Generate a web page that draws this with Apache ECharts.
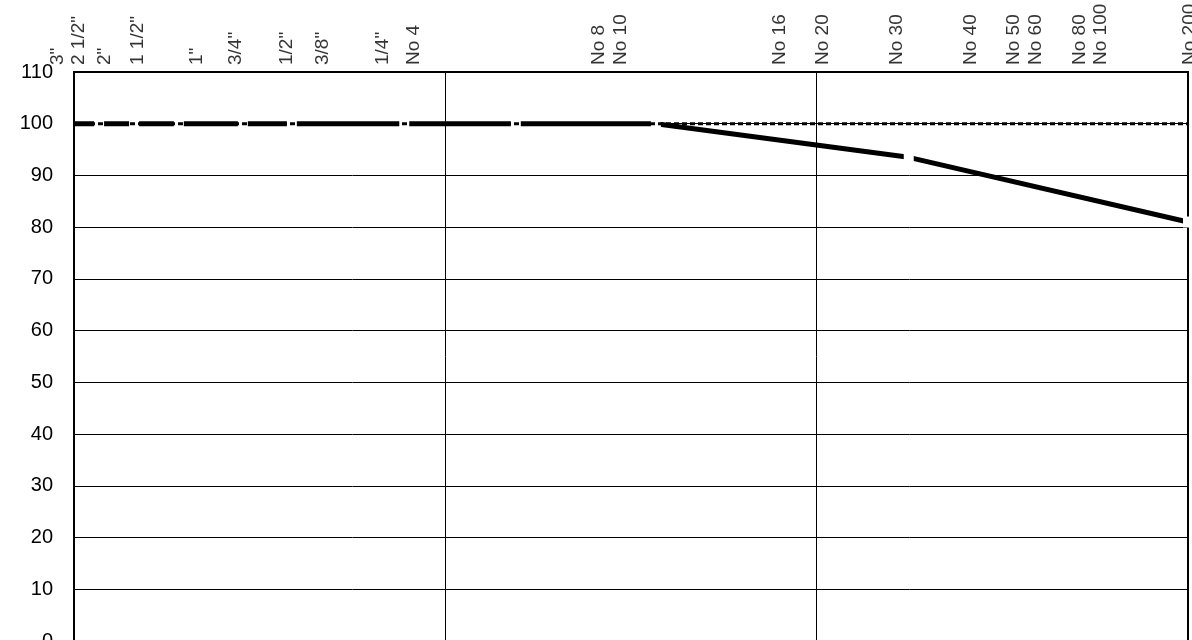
<!DOCTYPE html>
<html><head><meta charset="utf-8">
<script src="https://cdn.jsdelivr.net/npm/echarts@6/dist/echarts.min.js"></script>
<style>html,body{margin:0;padding:0;background:#fff;overflow:hidden}#c{width:1192px;height:640px}</style>
</head><body><div id="c"></div>
<script>
// Sieve tick labels and the axis value (mm, log axis) at which each label sits in the picture
const sieveLabels = ['3"', '2 1/2"', '2"', '1 1/2"', '1"', '3/4"', '1/2"', '3/8"', '1/4"', 'No 4', 'No 8', 'No 10', 'No 16', 'No 20', 'No 30', 'No 40', 'No 50', 'No 60', 'No 80', 'No 100', 'No 200'];
const labelSizesMm = [111.8, 98.1, 83.6, 68.1, 47.2, 37.1, 26.9, 21.6, 14.9, 12.3, 3.91, 3.41, 1.27, 0.969, 0.613, 0.388, 0.297, 0.259, 0.198, 0.173, 0.0997];

// Gradation curve (percent passing)
const gradSizesMm = [100, 85.6, 68.9, 52.2, 35.1, 25.9, 12.9, 6.46, 2.71, 0.565, 0.1];
const gradPassing = [100, 100, 100, 100, 100, 100, 100, 100, 100, 93.5, 81];

// Upper limit line
const limitSizesMm = [100, 0.1];
const limitPassing = [100, 100];

const FONT = '"Liberation Sans", Arial, sans-serif';
const chart = echarts.init(document.getElementById('c'), null, {renderer: 'canvas'});
chart.setOption({
  animation: false,
  backgroundColor: '#fff',
  grid: {left: 74, right: 4, top: 72, height: 569, outerBoundsMode: 'none', containLabel: false,
         show: true, borderColor: '#000', borderWidth: 2, backgroundColor: 'transparent'},
  xAxis: {
    type: 'log', logBase: 10, min: 0.1, max: 100, inverse: true,
    axisLine: {show: false}, axisTick: {show: false}, axisLabel: {show: false},
    splitLine: {show: true, lineStyle: {color: '#000', width: 1}},
    minorSplitLine: {show: false}
  },
  yAxis: {
    type: 'value', min: 0, max: 110, interval: 10,
    axisLine: {show: false}, axisTick: {show: false},
    axisLabel: {color: '#000', fontSize: 20, fontFamily: FONT, margin: 21},
    splitLine: {show: true, lineStyle: {color: '#000', width: 1}}
  },
  series: [
    {
      type: 'line', name: 'Gradation', z: 2,
      data: gradSizesMm.map((s, i) => i === 0
        ? {value: [s, gradPassing[i]], symbol: 'none'}
        : [s, gradPassing[i]]),
      lineStyle: {color: '#000', width: 5},
      symbol: 'rect', symbolSize: [10, 11], showSymbol: true,
      itemStyle: {color: '#fff', borderWidth: 0},
      clip: true, silent: true
    },
    {
      type: 'line', name: 'Limit', z: 3,
      data: limitSizesMm.map((s, i) => [s, limitPassing[i]]),
      lineStyle: {color: '#000', width: 3, type: [5, 3]},
      symbol: 'none', clip: true, silent: true
    },
    {
      type: 'scatter', name: 'Sieves', z: 4,
      data: labelSizesMm.map((s, i) => ({value: [s, 110], name: sieveLabels[i]})),
      symbolSize: 0, clip: false, silent: true,
      itemStyle: {color: 'transparent'},
      label: {
        show: true, formatter: p => p.name, position: [1.5, -7], rotate: 90,
        align: 'left', verticalAlign: 'middle',
        color: '#000', fontSize: 19, fontFamily: FONT
      }
    }
  ]
});
</script></body></html>
